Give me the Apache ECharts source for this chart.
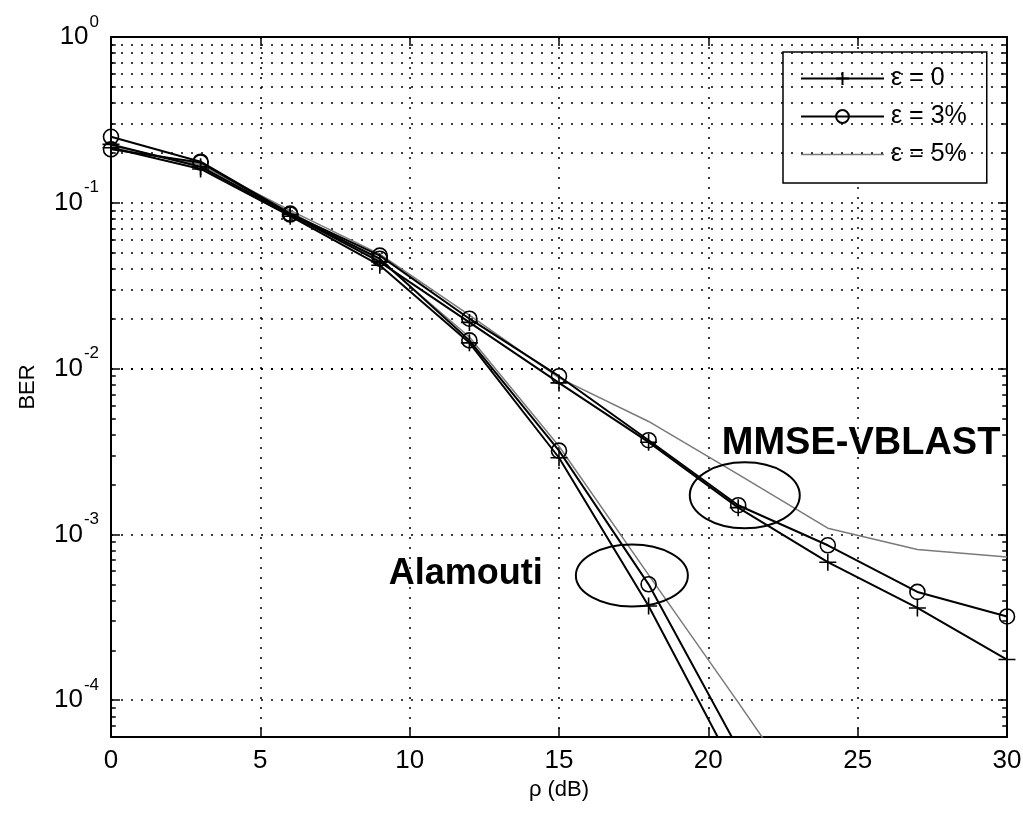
<!DOCTYPE html>
<html>
<head>
<meta charset="utf-8">
<style>
  html, body { margin: 0; padding: 0; background: #fff; }
  #chart { width: 1023px; height: 813px; }
</style>
<script src="https://cdn.jsdelivr.net/npm/echarts@6.0.0/dist/echarts.min.js"></script>
</head>
<body>
<div id="chart"></div>
<script>
// SNR points (dB) at which BER was simulated
const snr = [0, 3, 6, 9, 12, 15, 18, 21, 24, 27, 30];

// Alamouti scheme, channel-estimation error 0 / 3% / 5%
const alamoutiE0 = [0.215, 0.160, 0.083, 0.042, 0.0143, 0.0029, 0.00037, 0.000035, 0.0000032];
const alamoutiE3 = [0.210, 0.175, 0.085, 0.046, 0.0148, 0.0032, 0.00050, 0.000051, 0.0000050];
const alamoutiE5 = [0.220, 0.170, 0.088, 0.045, 0.0155, 0.0034, 0.00057, 0.000097, 0.000016];

// MMSE-VBLAST detector, channel-estimation error 0 / 3% / 5%
const vblastE0 = [0.225, 0.165, 0.085, 0.044, 0.0190, 0.0082, 0.0036, 0.00145, 0.00068, 0.00036, 0.000176];
const vblastE3 = [0.250, 0.177, 0.086, 0.048, 0.0200, 0.0090, 0.0037, 0.00150, 0.00086, 0.00045, 0.00032];
const vblastE5 = [0.215, 0.170, 0.090, 0.049, 0.0210, 0.0088, 0.0048, 0.00230, 0.00109, 0.00081, 0.00073];

const legendNames = ['ε = 0', 'ε = 3%', 'ε = 5%'];

// axis ranges
const snrRange = { min: 0, max: 30, step: 5 };
const berRange = { min: 6e-5, max: 1 };

// annotation anchors in (SNR, BER) coordinates
const labelAlamouti = { text: 'Alamouti', at: [9.3, 5.8e-4], size: 36 };
const labelVblast = { text: 'MMSE-VBLAST', at: [20.45, 3.55e-3], size: 38 };
const ringAlamouti = { at: [17.44, 5.65e-4], rx: 56, ry: 31 };
const ringVblast = { at: [21.22, 1.72e-3], rx: 55, ry: 33 };

const FONT = '"Liberation Sans", Arial, Helvetica, sans-serif';
const DOT = [2, 8];

// minor decade gridlines (2..9 x 10^k) inside the BER range
const minorValues = [];
for (let k = -5; k <= -1; k++) {
  for (let m = 2; m <= 9; m++) {
    const v = m * Math.pow(10, k);
    if (v > berRange.min * 1.0001 && v < berRange.max) minorValues.push(+v.toPrecision(3));
  }
}

const markerStyles = {
  plus: {
    symbol: 'path://M0,-1L0,1M-1,0L1,0',
    symbolSize: 17,
    itemStyle: { color: '#000', borderColor: '#000', borderWidth: 1.6 },
    lineStyle: { color: '#000', width: 2 }
  },
  circle: {
    symbol: 'circle',
    symbolSize: 15,
    itemStyle: { color: 'rgba(255,255,255,0)', borderColor: '#000', borderWidth: 1.6 },
    lineStyle: { color: '#000', width: 2 }
  },
  gray: {
    symbol: 'none',
    showSymbol: false,
    itemStyle: { color: '#7a7a7a' },
    lineStyle: { color: '#7a7a7a', width: 1.5 }
  }
};

function curve(name, ys, kind) {
  const s = markerStyles[kind];
  return Object.assign({
    type: 'line',
    name: name,
    xAxisIndex: 0,
    yAxisIndex: 0,
    data: ys.map((y, i) => [snr[i], y]),
    clip: true,
    z: 5,
    emphasis: { disabled: true },
    animation: false
  }, JSON.parse(JSON.stringify(s)));
}

function supLabel(v) {
  const e = Math.log10(v);
  const r = Math.round(e);
  if (Math.abs(e - r) > 1e-6) return '';
  return '{b|10}{e|' + r + '}';
}

const chart = echarts.init(document.getElementById('chart'), null, { renderer: 'canvas' });

const axisLine = { show: true, onZero: false, lineStyle: { color: '#000', width: 2 } };
const axisTick = { show: true, inside: true, length: 9, lineStyle: { color: '#000', width: 1.5 } };
const gridLine = { show: true, lineStyle: { type: DOT, color: '#000', width: 1.5 } };

const tickLen = 0.16;
const minorTicks = [];
minorValues.forEach(v => {
  minorTicks.push([{ coord: [snrRange.min, v] }, { coord: [snrRange.min + tickLen, v] }]);
  minorTicks.push([{ coord: [snrRange.max - tickLen, v] }, { coord: [snrRange.max, v] }]);
});

chart.setOption({
  animation: false,
  backgroundColor: '#fff',
  textStyle: { fontFamily: FONT, color: '#000' },
  grid: { left: 111, top: 37, right: 16, bottom: 76, containLabel: false, outerBoundsMode: 'none' },
  legend: {
    data: [
      legendNames[0],
      legendNames[1],
      { name: legendNames[2], icon: 'path://M0,0H83V1.6H0Z' }
    ],
    orient: 'vertical',
    left: 783,
    top: 52,
    padding: [14, 20, 16, 17],
    itemWidth: 83,
    itemHeight: 16,
    itemGap: 13,
    symbolKeepAspect: true,
    backgroundColor: '#fff',
    borderColor: '#000',
    borderWidth: 1.5,
    borderRadius: 0,
    textStyle: { fontFamily: FONT, fontSize: 25, color: '#000', padding: [0, 0, 0, 2] },
    selectedMode: false
  },
  xAxis: [
    {
      type: 'value', position: 'bottom',
      min: snrRange.min, max: snrRange.max, interval: snrRange.step,
      axisLine: axisLine, axisTick: axisTick,
      axisLabel: { fontSize: 26, color: '#000', margin: 11, fontFamily: FONT },
      splitLine: gridLine,
      name: 'ρ (dB)', nameLocation: 'middle', nameGap: 42,
      nameTextStyle: { fontSize: 22, color: '#000', fontFamily: FONT }
    },
    {
      type: 'value', position: 'top',
      min: snrRange.min, max: snrRange.max, interval: snrRange.step,
      axisLine: axisLine, axisTick: axisTick,
      axisLabel: { show: false }, splitLine: { show: false }
    }
  ],
  yAxis: [
    {
      type: 'log', logBase: 10, position: 'left',
      min: berRange.min, max: berRange.max,
      axisLine: axisLine, axisTick: axisTick,
      axisLabel: {
        formatter: supLabel, margin: 12, color: '#000',
        rich: {
          b: { fontSize: 26, fontFamily: FONT, color: '#000' },
          e: { fontSize: 17, fontFamily: FONT, color: '#000', padding: [0, 0, 30, 1] }
        }
      },
      splitLine: gridLine,
      name: 'BER', nameLocation: 'middle', nameGap: 72,
      nameTextStyle: { fontSize: 22, color: '#000', fontFamily: FONT }
    },
    {
      type: 'log', logBase: 10, position: 'right',
      min: berRange.min, max: berRange.max,
      axisLine: axisLine, axisTick: axisTick,
      axisLabel: { show: false }, splitLine: { show: false }
    }
  ],
  series: [
    {
      type: 'line', name: 'minor-grid', data: [], silent: true, z: 1,
      xAxisIndex: 0, yAxisIndex: 0,
      markLine: {
        silent: true, animation: false, symbol: ['none', 'none'],
        label: { show: false }, emphasis: { disabled: true },
        lineStyle: { type: DOT, color: '#000', width: 1.5 },
        data: minorValues.map(v => ({ yAxis: v }))
      }
    },
    {
      type: 'line', name: 'minor-ticks', data: [], silent: true, z: 6,
      xAxisIndex: 0, yAxisIndex: 0,
      markLine: {
        silent: true, animation: false, symbol: ['none', 'none'],
        label: { show: false }, emphasis: { disabled: true },
        lineStyle: { type: 'solid', color: '#000', width: 1.5 },
        data: minorTicks
      }
    },
    curve(legendNames[2], alamoutiE5, 'gray'),
    curve(legendNames[2], vblastE5, 'gray'),
    curve(legendNames[0], alamoutiE0, 'plus'),
    curve(legendNames[0], vblastE0, 'plus'),
    curve(legendNames[1], alamoutiE3, 'circle'),
    curve(legendNames[1], vblastE3, 'circle')
  ]
});

// annotations placed through the chart's own coordinate conversion
function px(pt) {
  return chart.convertToPixel({ xAxisIndex: 0, yAxisIndex: 0 }, pt);
}
const pRA = px(ringAlamouti.at), pRV = px(ringVblast.at);
const pLA = px(labelAlamouti.at), pLV = px(labelVblast.at);
chart.setOption({
  graphic: [
    { type: 'ellipse', z: 20, shape: { cx: pRA[0], cy: pRA[1], rx: ringAlamouti.rx, ry: ringAlamouti.ry },
      style: { fill: 'none', stroke: '#000', lineWidth: 2 } },
    { type: 'ellipse', z: 20, shape: { cx: pRV[0], cy: pRV[1], rx: ringVblast.rx, ry: ringVblast.ry },
      style: { fill: 'none', stroke: '#000', lineWidth: 2 } },
    { type: 'text', z: 20, x: pLA[0], y: pLA[1],
      style: { text: labelAlamouti.text, font: 'bold ' + labelAlamouti.size + 'px ' + FONT, fill: '#000', align: 'left', verticalAlign: 'middle' } },
    { type: 'text', z: 20, x: pLV[0], y: pLV[1],
      style: { text: labelVblast.text, font: 'bold ' + labelVblast.size + 'px ' + FONT, fill: '#000', align: 'left', verticalAlign: 'middle' } }
  ]
});
</script>
</body>
</html>
